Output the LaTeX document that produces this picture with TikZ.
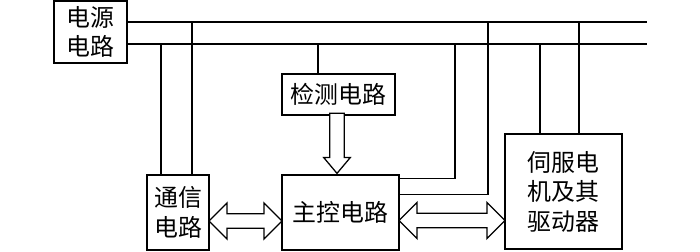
\documentclass[tikz,border=0pt]{standalone}
\usepackage{fontspec}
\usepackage{tikz}
\usetikzlibrary{shapes,arrows,positioning,calc}
\newfontfamily\cjkfont{Noto Sans CJK SC}

\begin{document}
\begin{tikzpicture}[x=0.025cm, y=-0.025cm, line width=0.9pt,
    block/.style={rectangle, draw, inner sep=0pt, align=center,
        font=\cjkfont\fontsize{17}{21}\selectfont},
    hollow/.style={draw, inner sep=0.165cm, fill=white}]
    \useasboundingbox (0,0) rectangle (700,251);

    % Nodes
    \node[block, minimum width=1.825cm, minimum height=1.55cm] (pwr) at (90.5,32) {电源\\电路};
    \node[block, minimum width=2.825cm, minimum height=1.025cm] (det) at (338.5,94.5) {检测电路};
    \node[block, minimum width=1.55cm, minimum height=1.875cm] (comm) at (178,212.5) {通信\\电路};
    \node[block, minimum width=2.925cm, minimum height=1.875cm] (ctrl) at (340.5,212.5) {主控电路};
    \node[block, minimum width=2.925cm, minimum height=2.875cm] (servo) at (563.5,191.5) {伺服电\\机及其\\驱动器};

    % Power buses
    \coordinate (busA) at (647,22);
    \coordinate (busB) at (647,44);
    \draw (pwr.east |- busA) -- (busA);
    \draw (pwr.east |- busB) -- (busB);

    % Taps
    \foreach \x/\bus/\dest in {161/busB/comm, 192/busA/comm, 318/busB/det, 540/busB/servo, 579/busA/servo}
        \draw (\x,0 |- \bus) -- (\x,0 |- \dest.north);
    \draw (busB -| 455,0) |- ($(ctrl.north east)+(0,4)$);
    \draw (busA -| 488,0) |- ($(ctrl.north east)+(0,20)$);

    % Arrows
    \node[hollow, single arrow, shape border rotate=270, minimum height=1.5cm, minimum width=0.625cm,
        single arrow head extend=0.15cm, single arrow tip angle=80, anchor=tip] (d2c)
        at ($(ctrl.north)+(-3.5,0)$) {};
    \node[hollow, double arrow, minimum height=1.825cm, minimum width=0.875cm,
        double arrow head extend=0.27cm] (c2m) at ($(comm.east)!.5!(ctrl.west)+(0,8.5)$) {};
    \node[hollow, double arrow, minimum height=2.65cm, minimum width=0.875cm,
        double arrow head extend=0.27cm] (m2s) at ($(ctrl.east)!.5!(ctrl.east -| servo.west)+(0,8)$) {};
\end{tikzpicture}
\end{document}
